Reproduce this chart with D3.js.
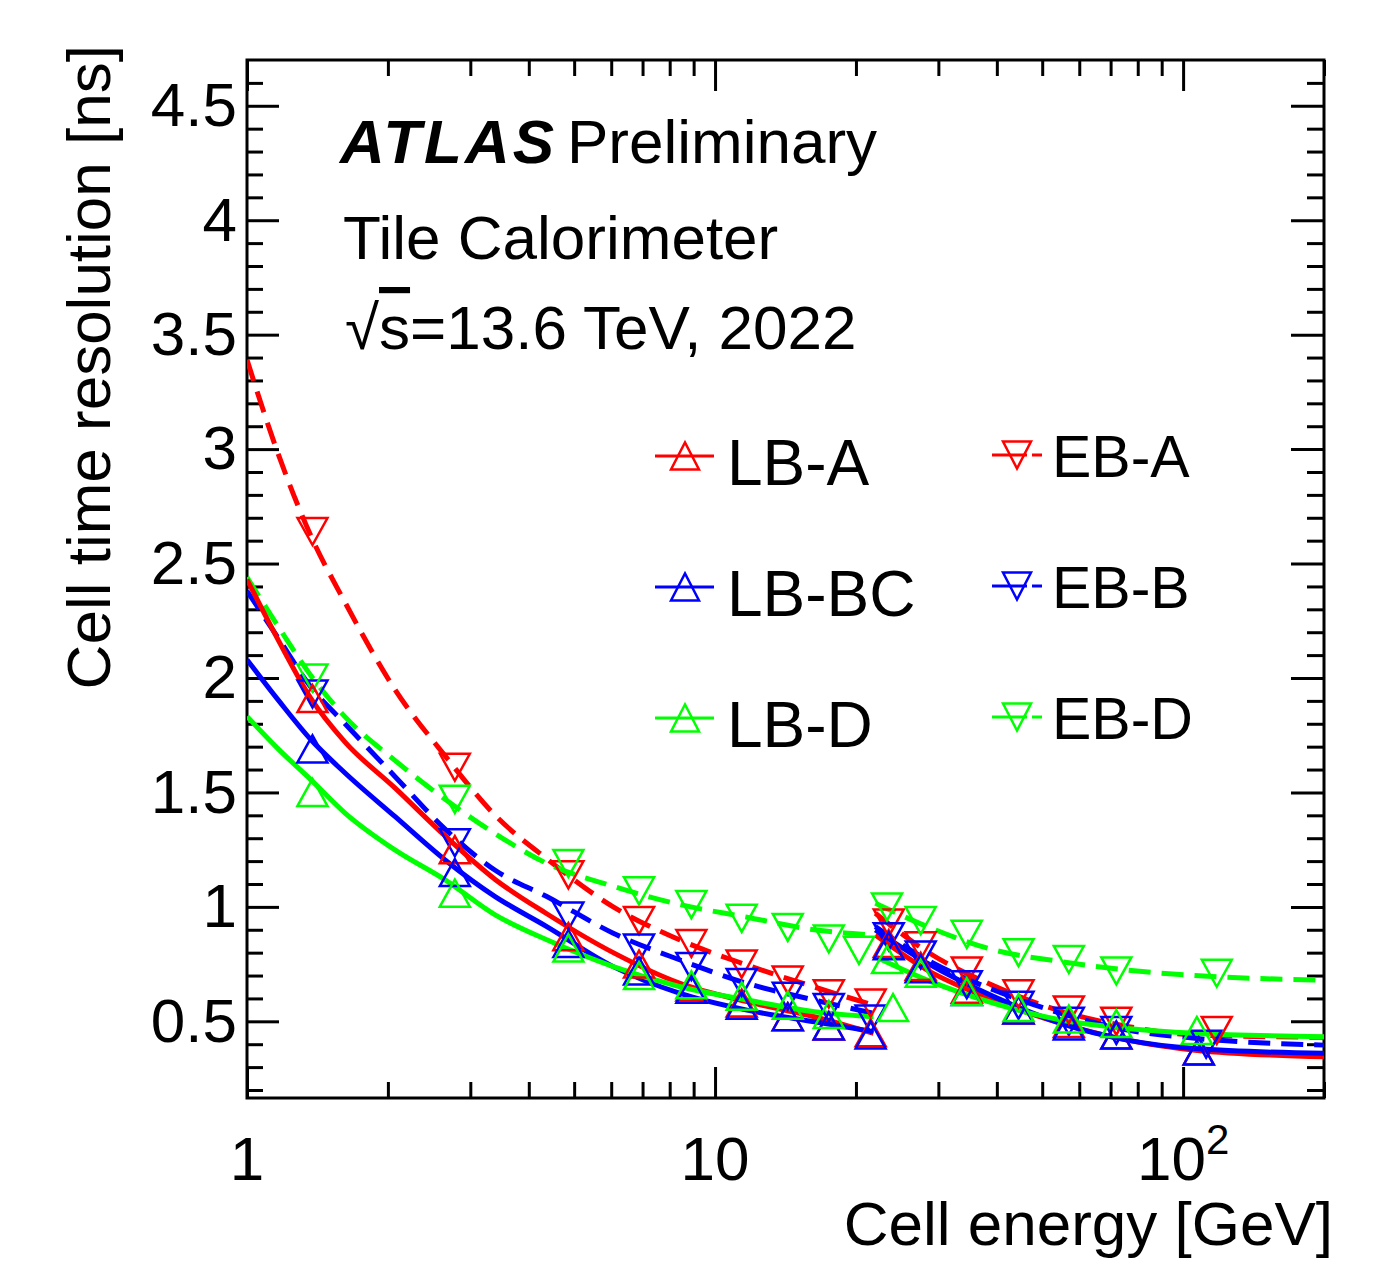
<!DOCTYPE html>
<html>
<head>
<meta charset="utf-8">
<title>Cell time resolution</title>
<script src="https://cdn.jsdelivr.net/npm/d3@7"></script>
<style>
  body { margin: 0; background: #fff; }
  text { font-family: "Liberation Sans", Arial, Helvetica, sans-serif; fill: #000; }
</style>
</head>
<body>
<svg id="content" width="1394" height="1261"></svg>
<script>
// energies (GeV) at which the curves were read, below and above the ~22 GeV break
var eLow  = [1, 1.17, 1.37, 1.62, 2.07, 2.65, 3.39, 4.37, 6.06, 8.42, 11.7, 16.3, 21.8];
var eHigh = [22, 28.4, 39.4, 54.8, 76, 106, 200];

// curve values (ns)
var lbA_low  = [2.43, 2.16, 1.91, 1.72, 1.52, 1.31, 1.12, 0.97, 0.80, 0.666, 0.586, 0.52, 0.448];
var lbA_high = [0.877, 0.724, 0.593, 0.491, 0.418, 0.374, 0.345];
var lbBC_low  = [2.08, 1.90, 1.73, 1.585, 1.395, 1.205, 1.045, 0.914, 0.739, 0.622, 0.549, 0.498, 0.455];
var lbBC_high = [0.899, 0.754, 0.608, 0.491, 0.418, 0.381, 0.36];
var lbD_low  = [1.832, 1.687, 1.555, 1.41, 1.249, 1.118, 0.965, 0.856, 0.739, 0.651, 0.593, 0.542, 0.52];
var lbD_high = [0.782, 0.68, 0.579, 0.506, 0.469, 0.448, 0.433];
var ebA_low  = [3.39, 2.97, 2.62, 2.33, 1.95, 1.66, 1.40, 1.21, 1.0, 0.855, 0.746, 0.65, 0.571];
var ebA_high = [0.972, 0.804, 0.655, 0.545, 0.478, 0.44, 0.43];
var ebB_low  = [2.38, 2.17, 1.96, 1.80, 1.57, 1.34, 1.16, 1.045, 0.885, 0.768, 0.666, 0.593, 0.535];
var ebB_high = [0.914, 0.768, 0.637, 0.535, 0.462, 0.426, 0.396];
var ebD_low  = [2.44, 2.22, 2.01, 1.83, 1.64, 1.47, 1.32, 1.19, 1.09, 1.01, 0.955, 0.90, 0.877];
var ebD_high = [1.016, 0.914, 0.812, 0.761, 0.724, 0.70, 0.68];

// measured points (energy, resolution)
var lbA_markE = [1.38, 2.78, 4.86, 6.88, 8.9, 11.4, 14.3, 17.5, 21.5, 23.5, 27.5, 34.5, 44.5, 57, 72, 108];
var lbA_markV = [1.91, 1.25, 0.87, 0.75, 0.65, 0.58, 0.52, 0.48, 0.45, 0.84, 0.74, 0.64, 0.55, 0.49, 0.44, 0.37];
var lbBC_markE = [1.38, 2.78, 4.86, 6.88, 8.9, 11.4, 14.3, 17.5, 21.5, 23.5, 27.5, 34.5, 44.5, 57, 72, 108];
var lbBC_markV = [1.69, 1.15, 0.84, 0.72, 0.64, 0.57, 0.52, 0.48, 0.44, 0.83, 0.73, 0.63, 0.55, 0.48, 0.44, 0.37];
var lbD_markE = [1.38, 2.78, 4.86, 6.88, 8.9, 11.4, 14.3, 17.5, 24, 23.3, 27.5, 34.5, 44.5, 57, 72, 107];
var lbD_markV = [1.50, 1.06, 0.82, 0.70, 0.66, 0.61, 0.57, 0.53, 0.56, 0.77, 0.71, 0.63, 0.56, 0.51, 0.49, 0.46];
var ebA_markE = [1.38, 2.78, 4.86, 6.88, 8.9, 11.4, 14.3, 17.5, 21.5, 23.5, 27.5, 34.5, 44.5, 57, 72, 118];
var ebA_markV = [2.64, 1.61, 1.14, 0.94, 0.84, 0.75, 0.68, 0.62, 0.58, 0.93, 0.83, 0.72, 0.62, 0.55, 0.50, 0.46];
var ebB_markE = [1.38, 2.78, 4.86, 6.88, 8.9, 11.4, 14.3, 17.5, 21.5, 23.5, 27.5, 34.5, 44.5, 57, 72, 112];
var ebB_markV = [1.93, 1.28, 0.96, 0.82, 0.74, 0.67, 0.61, 0.56, 0.51, 0.87, 0.79, 0.66, 0.57, 0.50, 0.46, 0.40];
var ebD_markE = [1.38, 2.78, 4.86, 6.88, 8.9, 11.4, 14.3, 17.5, 20.3, 23.3, 27.5, 34.5, 44.5, 57, 72, 118];
var ebD_markV = [2.00, 1.47, 1.19, 1.07, 1.01, 0.95, 0.91, 0.86, 0.81, 1.00, 0.94, 0.88, 0.80, 0.77, 0.72, 0.71];

var names = ["LB-A", "LB-BC", "LB-D", "EB-A", "EB-B", "EB-D"];

// axis ticks
var yMajor = [0.5, 1, 1.5, 2, 2.5, 3, 3.5, 4, 4.5];
var yLabels = ["0.5", "1", "1.5", "2", "2.5", "3", "3.5", "4", "4.5"];
var xMajor = [1, 10, 100];
var xLabelBase = ["1", "10", "10"];
var xLabelExp = ["", "", "2"];

var series = [
  { name: names[0], low: lbA_low,  high: lbA_high,  mE: lbA_markE,  mV: lbA_markV },
  { name: names[1], low: lbBC_low, high: lbBC_high, mE: lbBC_markE, mV: lbBC_markV },
  { name: names[2], low: lbD_low,  high: lbD_high,  mE: lbD_markE,  mV: lbD_markV },
  { name: names[3], low: ebA_low,  high: ebA_high,  mE: ebA_markE,  mV: ebA_markV },
  { name: names[4], low: ebB_low,  high: ebB_high,  mE: ebB_markE,  mV: ebB_markV },
  { name: names[5], low: ebD_low,  high: ebD_high,  mE: ebD_markE,  mV: ebD_markV }
];
var colour = { "LB-A": "#ff0000", "LB-BC": "#0000ff", "LB-D": "#00ff00",
               "EB-A": "#ff0000", "EB-B": "#0000ff", "EB-D": "#00ff00" };
function isEB(n) { return n.indexOf("EB") === 0; }

var svg = d3.select("#content");
var L = 247, R = 1324, T = 60, B = 1098;

var x = d3.scaleLog().domain([1, 200]).range([L, R]);
var y = d3.scaleLinear().domain([0.165, 4.7]).range([B, T]);

// ---- ticks (ROOT style: inward, on all four sides)
var yMinor = d3.range(2, 47).map(function(i){ return i / 10; })
  .filter(function(v){ return Math.abs(v * 2 - Math.round(v * 2)) > 1e-6; });
var xMinor = [2,3,4,5,6,7,8,9,20,30,40,50,60,70,80,90,200];

function styleAxis(g) {
  g.select(".domain").remove();
  g.selectAll("line").attr("stroke", "#000").attr("stroke-width", 3);
}

svg.append("g").attr("transform", "translate(" + L + ",0)")
  .call(d3.axisLeft(y).tickValues(yMajor).tickSize(-32).tickPadding(10)
        .tickFormat(function(d, i){ return yLabels[i]; }))
  .call(styleAxis)
  .selectAll("text").attr("font-size", 62).attr("font-family", "Liberation Sans, Arial, sans-serif");
svg.append("g").attr("transform", "translate(" + L + ",0)")
  .call(d3.axisLeft(y).tickValues(yMinor).tickSize(-16).tickFormat(""))
  .call(styleAxis);
svg.append("g").attr("transform", "translate(" + R + ",0)")
  .call(d3.axisRight(y).tickValues(yMajor).tickSize(-33).tickFormat(""))
  .call(styleAxis);
svg.append("g").attr("transform", "translate(" + R + ",0)")
  .call(d3.axisRight(y).tickValues(yMinor).tickSize(-17).tickFormat(""))
  .call(styleAxis);

svg.append("g").attr("transform", "translate(0," + B + ")")
  .call(d3.axisBottom(x).tickValues(xMajor).tickSize(-31).tickFormat(""))
  .call(styleAxis);
svg.append("g").attr("transform", "translate(0," + B + ")")
  .call(d3.axisBottom(x).tickValues(xMinor).tickSize(-16).tickFormat(""))
  .call(styleAxis);
svg.append("g").attr("transform", "translate(0," + T + ")")
  .call(d3.axisTop(x).tickValues(xMajor).tickSize(-31).tickFormat(""))
  .call(styleAxis);
svg.append("g").attr("transform", "translate(0," + T + ")")
  .call(d3.axisTop(x).tickValues(xMinor).tickSize(-16).tickFormat(""))
  .call(styleAxis);

// x tick labels with exponent
var xl = svg.append("g").selectAll("text").data(xMajor).enter().append("text")
  .attr("x", function(d){ return x(d); })
  .attr("y", 1180)
  .attr("text-anchor", "middle")
  .attr("font-size", 62);
xl.append("tspan").text(function(d, i){ return xLabelBase[i]; });
xl.append("tspan").attr("font-size", 42).attr("dy", -26)
  .text(function(d, i){ return xLabelExp[i]; });

// frame
svg.append("rect").attr("x", L).attr("y", T).attr("width", R - L).attr("height", B - T)
  .attr("fill", "none").attr("stroke", "#000").attr("stroke-width", 3);

// axis titles
svg.append("text").attr("x", 1333).attr("y", 1245).attr("text-anchor", "end")
  .attr("font-size", 62).text("Cell energy [GeV]");
svg.append("text").attr("transform", "translate(110,45) rotate(-90)")
  .attr("text-anchor", "end").attr("font-size", 62).text("Cell time resolution [ns]");

// ---- curves
var clip = svg.append("clipPath").attr("id", "plotclip");
clip.append("rect").attr("x", L).attr("y", T).attr("width", R - L).attr("height", B - T);

var line = d3.line()
  .x(function(d){ return x(d[0]); })
  .y(function(d){ return y(d[1]); })
  .curve(d3.curveMonotoneX);

function triPath(up, w, h) {
  return up ? "M" + (-w/2) + "," + (h/2) + "L0," + (-h/2) + "L" + (w/2) + "," + (h/2) + "Z"
            : "M" + (-w/2) + "," + (-h/2) + "L0," + (h/2) + "L" + (w/2) + "," + (-h/2) + "Z";
}

// EB drawn first, LB on top
var drawOrder = [3, 4, 5, 0, 1, 2];
var plot = svg.append("g").attr("clip-path", "url(#plotclip)");
drawOrder.forEach(function(k) {
  var s = series[k];
  var c = colour[s.name];
  var dash = isEB(s.name) ? "22,11" : null;
  [d3.zip(eLow, s.low), d3.zip(eHigh, s.high)].forEach(function(seg) {
    plot.append("path").datum(seg)
      .attr("d", line)
      .attr("fill", "none")
      .attr("stroke", c)
      .attr("stroke-width", 5)
      .attr("stroke-dasharray", dash);
  });
});
drawOrder.forEach(function(k) {
  var s = series[k];
  var c = colour[s.name];
  plot.selectAll(null).data(d3.zip(s.mE, s.mV)).enter().append("path")
    .attr("transform", function(d){ return "translate(" + x(d[0]) + "," + y(d[1]) + ")"; })
    .attr("d", triPath(!isEB(s.name), 30, 27))
    .attr("fill", "none")
    .attr("stroke", c)
    .attr("stroke-width", 2.5);
});

// ---- legend
var legend = svg.append("g");
series.forEach(function(s, i) {
  var eb = isEB(s.name);
  var row = i % 3;
  var x0 = eb ? 992 : 655, x1 = eb ? 1042 : 714;
  var xm = eb ? 1017 : 685, xt = eb ? 1052 : 727;
  var yr = (eb ? 455 : 456) + row * 131;
  legend.append("line").attr("x1", x0).attr("x2", x1).attr("y1", yr).attr("y2", yr)
    .attr("stroke", colour[s.name]).attr("stroke-width", 3)
    .attr("stroke-dasharray", eb ? "35,5" : null);
  legend.append("path").attr("transform", "translate(" + xm + "," + yr + ")")
    .attr("d", triPath(!eb, 28, 27))
    .attr("fill", "none").attr("stroke", colour[s.name]).attr("stroke-width", 2.5);
  legend.append("text").attr("x", xt).attr("y", yr + (eb ? 22 : 29))
    .attr("font-size", eb ? 59 : 64).text(s.name);
});

// ---- labels
var lab = svg.append("g");
lab.append("text").attr("x", 340).attr("y", 163).attr("font-size", 62)
  .attr("font-weight", "bold").attr("font-style", "italic")
  .attr("letter-spacing", 3).text("ATLAS");
lab.append("text").attr("x", 567).attr("y", 163).attr("font-size", 62).text("Preliminary");
lab.append("text").attr("x", 343).attr("y", 259).attr("font-size", 62).text("Tile Calorimeter");
var rs = lab.append("text").attr("x", 345).attr("y", 349).attr("font-size", 62);
rs.append("tspan").text("√");
rs.append("tspan").style("text-decoration", "overline").text("s");
rs.append("tspan").text("=13.6 TeV, 2022");
</script>
</body>
</html>
